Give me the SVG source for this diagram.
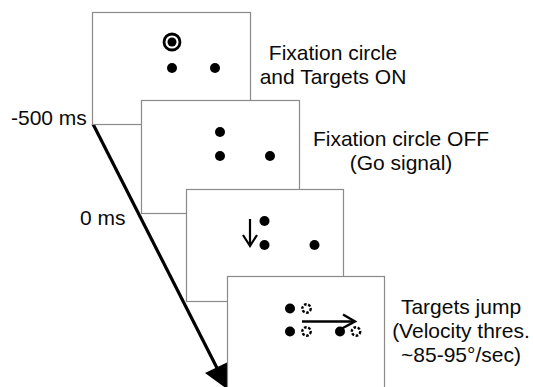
<svg xmlns="http://www.w3.org/2000/svg" width="533" height="387" viewBox="0 0 533 387">
<style>
.frame{fill:#fff;stroke:#8a8a8a;stroke-width:1.2}
.dot{fill:#000}
.ghost{fill:none;stroke:#000;stroke-width:2.4;stroke-dasharray:2.6 1.6}
.lbl{font-family:"Liberation Sans",Arial,sans-serif;font-size:21px;fill:#0a0a0a}
.mid{text-anchor:middle}
</style>
<rect width="533" height="387" fill="#fff"/>
<g id="timeline">
<line x1="93" y1="124" x2="217" y2="368" stroke="#000" stroke-width="3.2"/>
<polygon points="205,373 228,362 227,389" fill="#000"/>
<text class="lbl" x="11" y="125">-500 ms</text>
<text class="lbl" x="80" y="225">0 ms</text>
</g>
<g id="frame1">
<rect class="frame" x="92.5" y="12.5" width="158" height="112"/>
<circle cx="172" cy="42" r="8" fill="none" stroke="#000" stroke-width="2.8"/>
<circle class="dot" cx="172" cy="42" r="4.5"/>
<circle class="dot" cx="172" cy="68" r="5"/>
<circle class="dot" cx="215" cy="68" r="5"/>
<text class="lbl mid" x="333" y="60">Fixation circle</text>
<text class="lbl mid" x="333" y="84">and Targets ON</text>
</g>
<g id="frame2">
<rect class="frame" x="141.5" y="100.5" width="158" height="113"/>
<circle class="dot" cx="220" cy="132" r="5"/>
<circle class="dot" cx="220" cy="156" r="5"/>
<circle class="dot" cx="270" cy="156" r="5"/>
<text class="lbl mid" x="401" y="146">Fixation circle OFF</text>
<text class="lbl mid" x="401" y="170">(Go signal)</text>
</g>
<g id="frame3">
<rect class="frame" x="186.5" y="189.5" width="157" height="112"/>
<circle class="dot" cx="264.5" cy="221" r="5"/>
<circle class="dot" cx="264.5" cy="245" r="5"/>
<circle class="dot" cx="314.5" cy="245" r="5"/>
<line x1="250" y1="219" x2="250" y2="245" stroke="#000" stroke-width="2.2"/>
<polyline points="243,235 250,246 257,235" fill="none" stroke="#000" stroke-width="2.2"/>
</g>
<g id="frame4">
<rect class="frame" x="227.5" y="276.5" width="157" height="115"/>
<circle class="dot" cx="290" cy="308.5" r="5"/>
<circle class="dot" cx="290" cy="331.5" r="5"/>
<circle class="dot" cx="340" cy="331.5" r="5"/>
<circle class="ghost" cx="306.5" cy="308.5" r="4.2"/>
<circle class="ghost" cx="306.5" cy="331.5" r="4.2"/>
<circle class="ghost" cx="356" cy="331.5" r="4.2"/>
<line x1="302" y1="321.5" x2="354" y2="321.5" stroke="#000" stroke-width="2.4"/>
<polyline points="343,314.5 355,321.5 341,329" fill="none" stroke="#000" stroke-width="2.4"/>
<text class="lbl mid" x="461" y="314">Targets jump</text>
<text class="lbl mid" x="461" y="338">(Velocity thres.</text>
<text class="lbl mid" x="461" y="362">~85-95°/sec)</text>
</g>
</svg>
